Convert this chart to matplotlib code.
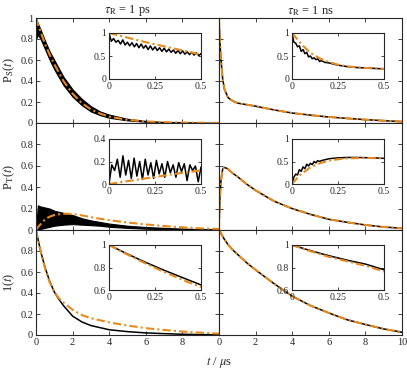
import numpy as np
import matplotlib.pyplot as plt

plt.rcParams['font.family'] = ['Liberation Serif', 'DejaVu Serif']
plt.rcParams['mathtext.fontset'] = 'stix'

ORANGE = '#E8891C'
INK = '#262626'
DASHDOT = (0, (4, 1.5, 1, 1.5))

# ---- main panels, tau_R = 1 ps ----
t_ps = [0, 0.1, 0.25, 0.5, 0.75, 1, 1.5, 2, 2.5, 3, 3.5, 4, 5, 6, 7, 8, 9, 10]
ps_S_orange = [1.0, 0.94, 0.87, 0.75, 0.65, 0.56, 0.40, 0.28, 0.19, 0.13, 0.09, 0.06, 0.03, 0.015, 0.008, 0.004, 0.002, 0.001]
ps_S_upper = [1.0, 0.95, 0.89, 0.78, 0.68, 0.60, 0.44, 0.32, 0.23, 0.16, 0.11, 0.08, 0.04, 0.02, 0.01, 0.005, 0.003, 0.002]
ps_S_lower = [0.80, 0.84, 0.80, 0.70, 0.60, 0.51, 0.36, 0.25, 0.17, 0.11, 0.075, 0.05, 0.025, 0.012, 0.006, 0.003, 0.001, 0.0]

ps_T_orange = [0.0, 0.025, 0.055, 0.1, 0.125, 0.14, 0.153, 0.15, 0.137, 0.12, 0.105, 0.092, 0.07, 0.052, 0.037, 0.025, 0.015, 0.01]
ps_T_upper = [0.0, 0.23, 0.22, 0.21, 0.2, 0.18, 0.16, 0.14, 0.11, 0.09, 0.075, 0.06, 0.04, 0.028, 0.02, 0.013, 0.008, 0.005]
ps_T_lower = [0.0, 0.0, 0.01, 0.02, 0.03, 0.04, 0.05, 0.055, 0.05, 0.045, 0.04, 0.03, 0.02, 0.012, 0.008, 0.005, 0.002, 0.0]

t_one = [0, 0.25, 0.5, 0.75, 1, 1.25, 1.5, 2, 2.5, 3, 4, 5, 6, 7, 8, 9, 10]
ps_one_black = [1.0, 0.8, 0.64, 0.51, 0.41, 0.34, 0.28, 0.18, 0.125, 0.09, 0.05, 0.032, 0.02, 0.013, 0.007, 0.004, 0.002]
ps_one_orange = [1.0, 0.8, 0.63, 0.5, 0.41, 0.35, 0.31, 0.24, 0.19, 0.16, 0.12, 0.09, 0.065, 0.048, 0.033, 0.022, 0.013]

# ---- main panels, tau_R = 1 ns ----
t_ns = [0, 0.05, 0.1, 0.2, 0.3, 0.5, 0.75, 1, 1.5, 2, 3, 4, 5, 6, 7, 8, 9, 10]
ns_S = [1.0, 0.78, 0.62, 0.42, 0.32, 0.24, 0.21, 0.19, 0.175, 0.16, 0.125, 0.095, 0.075, 0.057, 0.044, 0.032, 0.022, 0.013]
ns_T = [0.0, 0.3, 0.45, 0.57, 0.585, 0.57, 0.53, 0.5, 0.43, 0.37, 0.27, 0.2, 0.146, 0.1, 0.072, 0.047, 0.028, 0.016]
ns_one = [1.0, 0.985, 0.97, 0.94, 0.91, 0.86, 0.81, 0.77, 0.69, 0.62, 0.49, 0.37, 0.28, 0.21, 0.145, 0.1, 0.058, 0.026]

# ---- insets ----
ins_ps_S_black = [1.0, 0.82, 0.88, 0.80, 0.84, 0.76, 0.85, 0.74, 0.80, 0.72, 0.79, 0.70, 0.77, 0.68, 0.76,
                  0.67, 0.73, 0.64, 0.72, 0.63, 0.70, 0.62, 0.68, 0.60, 0.67, 0.59, 0.65, 0.58, 0.63, 0.56,
                  0.62, 0.55, 0.61, 0.54, 0.59, 0.53, 0.58, 0.52, 0.57, 0.51, 0.55]
t_ins6 = [0, 0.1, 0.2, 0.3, 0.4, 0.5]
ins_ps_S_orange = [1.0, 0.9, 0.8, 0.71, 0.62, 0.53]

ins_ps_T_black = [0.0, 0.17, 0.12, 0.22, 0.06, 0.25, 0.08, 0.21, 0.05, 0.23, 0.07, 0.2, 0.04, 0.22, 0.08, 0.19, 0.05,
                  0.21, 0.09, 0.18, 0.06, 0.2, 0.1, 0.17, 0.06, 0.19, 0.11, 0.18, 0.03, 0.17, 0.12, 0.16, 0.02, 0.15]
ins_ps_T_orange = [0.0, 0.025, 0.05, 0.075, 0.1, 0.12]

ins_one_ps_black = [1.0, 0.92, 0.845, 0.775, 0.71, 0.645]
ins_one_ps_orange = [1.0, 0.915, 0.835, 0.76, 0.69, 0.625]

t_ins_ns = [0, 0.01, 0.02, 0.03, 0.04, 0.05, 0.06, 0.07, 0.08, 0.09, 0.1, 0.11, 0.12, 0.13, 0.14, 0.15, 0.16,
            0.18, 0.2, 0.22, 0.25, 0.3, 0.35, 0.4, 0.45, 0.5]
ins_ns_S_black = [1.0, 0.8, 0.78, 0.7, 0.72, 0.6, 0.64, 0.55, 0.58, 0.48, 0.5, 0.44, 0.46, 0.42, 0.44, 0.38, 0.40,
                  0.36, 0.35, 0.33, 0.3, 0.27, 0.25, 0.24, 0.23, 0.22]
ins_ns_T_black = [0.0, 0.15, 0.22, 0.2, 0.32, 0.28, 0.38, 0.34, 0.44, 0.4, 0.46, 0.43, 0.5, 0.47, 0.52, 0.5, 0.52,
                  0.54, 0.56, 0.57, 0.58, 0.59, 0.59, 0.585, 0.58, 0.57]
t_ins_o = [0, 0.025, 0.05, 0.1, 0.15, 0.2, 0.25, 0.3, 0.35, 0.4, 0.45, 0.5]
ins_ns_S_orange = [1.0, 0.88, 0.76, 0.57, 0.45, 0.37, 0.31, 0.275, 0.255, 0.24, 0.23, 0.22]
ins_ns_T_orange = [0.0, 0.12, 0.22, 0.37, 0.46, 0.52, 0.55, 0.57, 0.575, 0.58, 0.575, 0.57]

ins_one_ns_black = [1.0, 0.95, 0.905, 0.865, 0.83, 0.78]
ins_one_ns_orange = [1.0, 0.945, 0.895, 0.855, 0.815, 0.765]

W, H = 407, 368


def frac(x0, y0, x1, y1):
    return [x0 / W, 1 - y1 / H, (x1 - x0) / W, (y1 - y0) / H]


def style(ax, fs=7.5):
    ax.tick_params(direction='in', top=True, right=True, length=3, width=0.6,
                   labelsize=fs, colors=INK, pad=2)
    for s in ax.spines.values():
        s.set_color(INK)
        s.set_linewidth(0.8)


fig = plt.figure(figsize=(W / 100, H / 100), dpi=100)

rows = [(18, 123), (123, 230), (230, 335)]
cols = [(36, 219), (219, 402)]
axes = [[fig.add_axes(frac(c[0], r[0], c[1], r[1])) for c in cols] for r in rows]

for i in range(3):
    for j in range(2):
        ax = axes[i][j]
        ax.set_xlim(0, 10)
        ax.set_ylim(0, 1)
        ax.set_xticks([0, 2, 4, 6, 8, 10])
        ax.set_yticks([0, 0.2, 0.4, 0.6, 0.8, 1])
        style(ax)
        if j == 0:
            labs = ['0', '0.2', '0.4', '0.6', '0.8', '1' if i == 0 else '']
            ax.set_yticklabels(labs)
        else:
            ax.set_yticklabels([])
        if i < 2:
            ax.set_xticklabels([])
        elif j == 0:
            ax.set_xticklabels(['0', '2', '4', '6', '8', ''])

lw_b, lw_o = 1.1, 1.5

# 1 ps column
ax = axes[0][0]
ax.fill_between(t_ps, ps_S_lower, ps_S_upper, color='black', lw=0.8)
ax.plot(t_ps, ps_S_orange, color=ORANGE, lw=lw_o, ls=DASHDOT)
ax = axes[1][0]
ax.fill_between(t_ps, ps_T_lower, ps_T_upper, color='black', lw=0.8)
ax.plot(t_ps, ps_T_orange, color=ORANGE, lw=lw_o, ls=DASHDOT)
ax = axes[2][0]
ax.plot(t_one, ps_one_black, color='black', lw=lw_b)
ax.plot(t_one, ps_one_orange, color=ORANGE, lw=lw_o, ls=DASHDOT)

# 1 ns column
for i, ys in enumerate([ns_S, ns_T, ns_one]):
    ax = axes[i][1]
    ax.plot(t_ns, ys, color='black', lw=lw_b)
    ax.plot(t_ns, ys, color=ORANGE, lw=lw_o, ls=DASHDOT)

axes[0][0].set_ylabel(r'P$_\mathrm{S}$($t$)', fontsize=9, color=INK, labelpad=2)
axes[1][0].set_ylabel(r'P$_\mathrm{T}$($t$)', fontsize=9, color=INK, labelpad=2)
axes[2][0].set_ylabel(r'1($t$)', fontsize=9, color=INK, labelpad=2)
axes[0][0].set_title(r'$\tau_\mathrm{R}$ = 1 ps', fontsize=9, color=INK, pad=3)
axes[0][1].set_title(r'$\tau_\mathrm{R}$ = 1 ns', fontsize=9, color=INK, pad=3)
fig.text(219 / W, 1 - 362 / H, r'$t$ / $\mu$s', ha='center', va='center', fontsize=9, color=INK)

# insets
irows = [(33, 79), (139, 184), (245, 290)]
icols = [(109, 201), (292, 384)]
ins = [[fig.add_axes(frac(c[0], r[0], c[1], r[1])) for c in icols] for r in irows]
ylims = [(0, 1), (0, 0.4), (0.6, 1)]
yticks = [([0, 0.5, 1], ['0', '0.5', '1']), ([0, 0.2, 0.4], ['0', '0.2', '0.4']),
          ([0.6, 0.8, 1], ['0.6', '0.8', '1'])]
for i in range(3):
    for j in range(2):
        a = ins[i][j]
        a.set_xlim(0, 0.5)
        yl = ylims[i] if j == 0 or i != 1 else (0, 1)
        a.set_ylim(*yl)
        a.set_xticks([0, 0.25, 0.5])
        a.set_xticklabels(['0', '0.25', '0.5'])
        if j == 1 and i == 1:
            a.set_yticks([0, 0.5, 1])
            a.set_yticklabels(['0', '0.5', '1'])
        else:
            a.set_yticks(yticks[i][0])
            a.set_yticklabels(yticks[i][1])
        style(a, fs=7)
        a.tick_params(length=2.5)

t41 = np.linspace(0, 0.5, len(ins_ps_S_black))
t34 = np.linspace(0, 0.5, len(ins_ps_T_black))
ins[0][0].plot(t41, ins_ps_S_black, color='black', lw=lw_b)
ins[0][0].plot(t_ins6, ins_ps_S_orange, color=ORANGE, lw=lw_o, ls=DASHDOT)
ins[1][0].plot(t34, ins_ps_T_black, color='black', lw=lw_b)
ins[1][0].plot(t_ins6, ins_ps_T_orange, color=ORANGE, lw=lw_o, ls=DASHDOT)
ins[2][0].plot(t_ins6, ins_one_ps_black, color='black', lw=lw_b)
ins[2][0].plot(t_ins6, ins_one_ps_orange, color=ORANGE, lw=lw_o, ls=DASHDOT)

ins[0][1].plot(t_ins_ns, ins_ns_S_black, color='black', lw=lw_b)
ins[0][1].plot(t_ins_o, ins_ns_S_orange, color=ORANGE, lw=lw_o, ls=DASHDOT)
ins[1][1].plot(t_ins_ns, ins_ns_T_black, color='black', lw=lw_b)
ins[1][1].plot(t_ins_o, ins_ns_T_orange, color=ORANGE, lw=lw_o, ls=DASHDOT)
ins[2][1].plot(t_ins6, ins_one_ns_black, color='black', lw=lw_b)
ins[2][1].plot(t_ins6, ins_one_ns_orange, color=ORANGE, lw=lw_o, ls=DASHDOT)

fig.savefig('out.png', dpi=100)
